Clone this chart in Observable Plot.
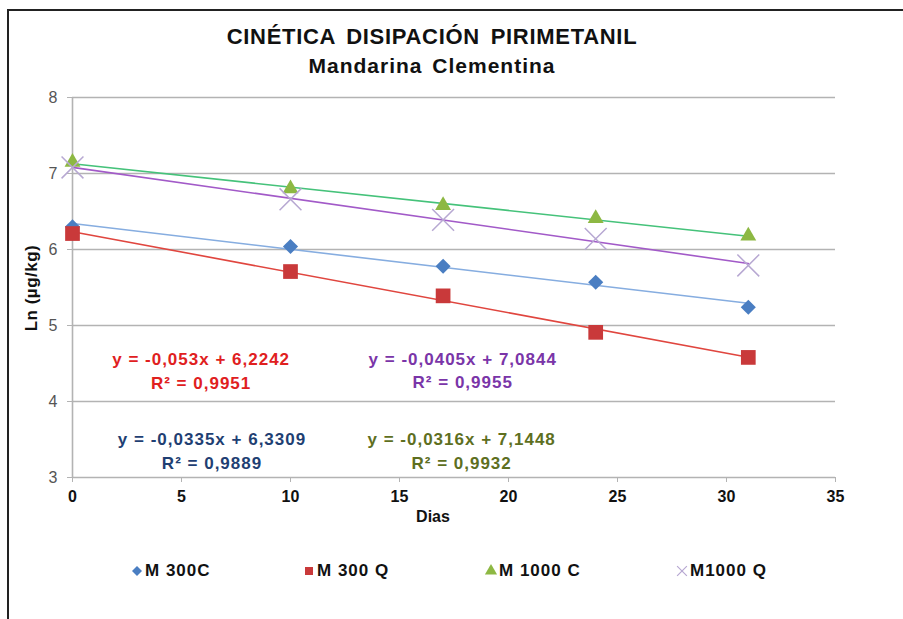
<!DOCTYPE html>
<html>
<head>
<meta charset="utf-8">
<script src="https://cdn.jsdelivr.net/npm/d3@7"></script>
<script src="https://cdn.jsdelivr.net/npm/@observablehq/plot@0.6"></script>
<style>
  html, body { margin: 0; padding: 0; background: #fff; }
  #chart { position: relative; width: 903px; height: 619px; overflow: hidden; font-family: "Liberation Sans", Arial, sans-serif; }
  #frame { position: absolute; left: 7px; top: 9px; right: -10px; bottom: -10px; border-top: 2px solid #222; border-left: 2px solid #222; }
  .title { position: absolute; left: 0; width: 864px; text-align: center; font-weight: bold; color: #111; }
  #t1 { top: 24px; font-size: 22px; word-spacing: 4px; letter-spacing: 0.7px; }
  #t2 { top: 54px; font-size: 21px; word-spacing: 3px; letter-spacing: 1px; }
  #plot { position: absolute; left: 0; top: 80px; }
  #xlabel { position: absolute; top: 508px; left: 0; width: 866px; text-align: center; font-weight: bold; font-size: 16px; color: #111; }
  #ylabel { position: absolute; left: 32px; top: 288px; transform: translate(-50%, -50%) rotate(-90deg); font-weight: bold; font-size: 17px; letter-spacing: 0.5px; color: #111; white-space: nowrap; }
  .leg { position: absolute; top: 561px; font-weight: bold; font-size: 17px; letter-spacing: 1px; color: #111; display: flex; align-items: center; white-space: nowrap; }
  .leg svg { margin-right: 1px; }
</style>
</head>
<body>
<div id="chart">
  <div id="frame"></div>
  <div class="title" id="t1">CINÉTICA DISIPACIÓN PIRIMETANIL</div>
  <div class="title" id="t2">Mandarina Clementina</div>
  <div id="plot"></div>
  <div id="xlabel">Dias</div>
  <div id="ylabel">Ln (µg/kg)</div>
  <div id="legend"></div>
</div>
<script>
// ---- data ----
const days = [0, 10, 17, 24, 31];
const seriesNames = ["M 300C", "M 300 Q", "M 1000 C", "M1000 Q"];
const m300C  = [6.30, 6.04, 5.78, 5.57, 5.24];
const m300Q  = [6.21, 5.71, 5.39, 4.91, 4.58];
const m1000C = [7.15, 6.80, 6.58, 6.41, 6.18];
const m1000Q = [7.08, 6.66, 6.39, 6.14, 5.79];
const equations = ["y = -0,0335x + 6,3309", "y = -0,053x + 6,2242", "y = -0,0316x + 7,1448", "y = -0,0405x + 7,0844"];
const rSquared = ["R² = 0,9889", "R² = 0,9951", "R² = 0,9932", "R² = 0,9955"];
const xTicks = [0, 5, 10, 15, 20, 25, 30, 35];
const yTicks = [3, 4, 5, 6, 7, 8];

const values = [m300C, m300Q, m1000C, m1000Q];
const rows = seriesNames.map((s, i) => days.map((d, j) => ({series: s, x: d, y: values[i][j]})));

const style = [
  {symbol: "diamond2", fill: "#4A7EC2", stroke: "none", r: 6.8, line: "#86ADE0", text: "#1F3F73"},
  {symbol: "square", fill: "#C9393A", stroke: "none", r: 8.3, line: "#E0463F", text: "#E0201E"},
  {symbol: "triangle", fill: "#8DB843", stroke: "none", r: 5.9, line: "#45C27A", text: "#5E6F1F"},
  {symbol: "times", fill: "none", stroke: "#B7A8D2", r: 10, line: "#A25AC8", text: "#7A35A8"}
];
// annotation anchors (data units) for equation labels
const labelAt = [
  {x: 6.4, y: 3.375},
  {x: 5.9, y: 4.42},
  {x: 17.85, y: 3.375},
  {x: 17.9, y: 4.43}
];

const font = '"Liberation Sans", Arial, sans-serif';
const marks = [
  Plot.ruleY(yTicks.slice(1), {stroke: "#b3b3b3", strokeWidth: 1.6}),
  Plot.ruleY([3], {stroke: "#b3b3b3", strokeWidth: 1.6}),
  Plot.ruleX([0], {stroke: "#b3b3b3", strokeWidth: 1.6}),
  Plot.axisX({ticks: xTicks, tickSize: 5, tickPadding: 8, stroke: "#b3b3b3", fontSize: 16, fontWeight: "bold", fontFamily: font, fill: "#111", label: null}),
  Plot.axisY({ticks: yTicks, tickFormat: d3.format("d"), tickSize: 5, tickPadding: 10, stroke: "#b3b3b3", fontSize: 16, fontFamily: font, fill: "#555", label: null})
];
rows.forEach((data, i) => {
  const st = style[i];
  marks.push(Plot.linearRegressionY(data, {x: "x", y: "y", ci: 0, stroke: st.line, strokeWidth: 1.6}));
});
rows.forEach((data, i) => {
  const st = style[i];
  marks.push(Plot.dot(data, {x: "x", y: "y", symbol: () => st.symbol, r: st.r, fill: st.fill, stroke: st.stroke, strokeWidth: 1.5}));
});
seriesNames.forEach((s, i) => {
  marks.push(Plot.text([equations[i] + "\n" + rSquared[i]], {
    x: () => labelAt[i].x, y: () => labelAt[i].y, text: d => d,
    fill: style[i].text, fontWeight: "bold", fontSize: 17, lineHeight: 1.4,
    fontFamily: font, textAnchor: "middle", className: "eq"
  }));
});

const chart = Plot.plot({
  width: 903,
  height: 450,
  marginLeft: 72,
  marginRight: 68,
  marginTop: 17,
  marginBottom: 53,
  x: {domain: [0, 35]},
  y: {domain: [3, 8]},
  symbol: {type: "identity"},
  style: {background: "transparent", overflow: "visible"},
  marks
});
chart.querySelectorAll(".eq text, .eq tspan").forEach(t => t.setAttribute("letter-spacing", "1"));
document.getElementById("plot").appendChild(chart);

// legend
const legendX = [130, 302, 484, 675];
const legend = document.getElementById("legend");
seriesNames.forEach((s, i) => {
  const st = style[i];
  const item = document.createElement("div");
  item.className = "leg";
  item.style.left = legendX[i] + "px";
  const sym = d3.symbol().type({diamond2: d3.symbolDiamond2, square: d3.symbolSquare, triangle: d3.symbolTriangle, times: d3.symbolTimes}[st.symbol]).size(64)();
  item.innerHTML = `<svg width="14" height="14" viewBox="-7 -7 14 14"><path d="${sym}" fill="${st.fill}" stroke="${st.stroke}" stroke-width="1.2"/></svg><span>${s}</span>`;
  legend.appendChild(item);
});
</script>
</body>
</html>
